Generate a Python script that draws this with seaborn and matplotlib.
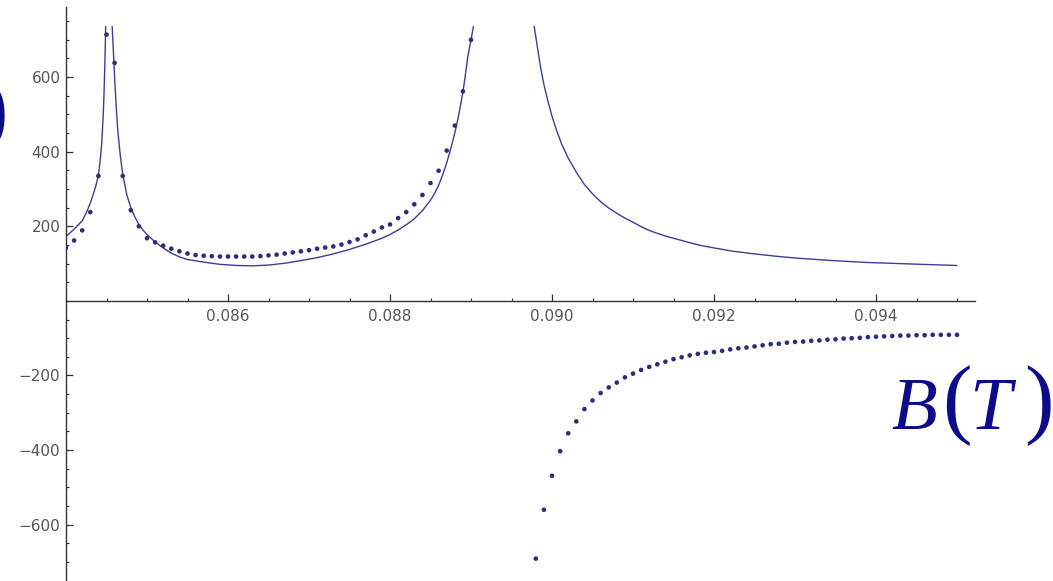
import matplotlib
matplotlib.use("Agg")
import matplotlib.pyplot as plt
from matplotlib.ticker import FixedLocator, MultipleLocator, FuncFormatter
import seaborn as sns
import pandas as pd

# ---------------- data ----------------
# measured points, positive branch
dots_pos_B = [0.0840, 0.0841, 0.0842, 0.0843, 0.0844, 0.0845, 0.0846, 0.0847, 0.0848, 0.0849,
              0.0850, 0.0851, 0.0852, 0.0853, 0.0854, 0.0855, 0.0856, 0.0857, 0.0858, 0.0859,
              0.0860, 0.0861, 0.0862, 0.0863, 0.0864, 0.0865, 0.0866, 0.0867, 0.0868, 0.0869,
              0.0870, 0.0871, 0.0872, 0.0873, 0.0874, 0.0875, 0.0876, 0.0877, 0.0878, 0.0879,
              0.0880, 0.0881, 0.0882, 0.0883, 0.0884, 0.0885, 0.0886, 0.0887, 0.0888, 0.0889,
              0.0890]
dots_pos_v = [143, 162, 189, 238, 335, 714, 638, 335, 243, 200,
              168, 157, 148, 140, 133, 127, 123, 121, 120, 119,
              119, 119, 119, 119, 120, 122, 124, 127, 130, 133,
              136, 140, 143, 146, 151, 158, 165, 176, 186, 197,
              205, 222, 238, 259, 284, 316, 349, 403, 470, 562,
              700]

# measured points, negative branch
dots_neg_B = [0.0898, 0.0899, 0.0900, 0.0901, 0.0902, 0.0903, 0.0904, 0.0905, 0.0906, 0.0907,
              0.0908, 0.0909, 0.0910, 0.0911, 0.0912, 0.0913, 0.0914, 0.0915, 0.0916, 0.0917,
              0.0918, 0.0919, 0.0920, 0.0921, 0.0922, 0.0923, 0.0924, 0.0925, 0.0926, 0.0927,
              0.0928, 0.0929, 0.0930, 0.0931, 0.0932, 0.0933, 0.0934, 0.0935, 0.0936, 0.0937,
              0.0938, 0.0939, 0.0940, 0.0941, 0.0942, 0.0943, 0.0944, 0.0945, 0.0946, 0.0947,
              0.0948, 0.0949, 0.0950]
dots_neg_v = [-691, -560, -469, -403, -355, -323, -290, -267, -247, -232,
              -219, -205, -195, -185, -177, -170, -163, -156, -151, -146,
              -142, -139, -137, -134, -130, -127, -125, -122, -119, -116,
              -115, -112, -110, -109, -107, -106, -104, -103, -101, -100,
              -99, -97, -96, -95, -94, -93, -93, -92, -92, -91,
              -91, -91, -91]

# theoretical curve, three branches
curve1_B = [0.08400, 0.08410, 0.08420, 0.08425, 0.08430, 0.08435, 0.08438, 0.08440, 0.08442,
            0.08444, 0.08446, 0.08447, 0.08448, 0.08449]
curve1_v = [173, 192, 215, 236, 262, 295, 318, 338, 372,
            420, 500, 560, 640, 736]

curve2_B = [0.08457, 0.08458, 0.08460, 0.08462, 0.08464, 0.08467, 0.08470, 0.08475, 0.08480,
            0.08485, 0.08490, 0.08495, 0.08500, 0.08510, 0.08520, 0.08530, 0.08540, 0.08550,
            0.08570, 0.08590, 0.08610, 0.08630, 0.08650, 0.08670, 0.08690, 0.08710, 0.08730,
            0.08750, 0.08770, 0.08790, 0.08800, 0.08810, 0.08820, 0.08830, 0.08840, 0.08850,
            0.08855, 0.08860, 0.08865, 0.08870, 0.08875, 0.08880, 0.08885, 0.08890, 0.08893,
            0.08896, 0.08900, 0.08903]
curve2_v = [736, 690, 600, 520, 455, 390, 340, 285, 250,
            225, 205, 190, 178, 158, 142, 128, 118, 111,
            104, 98, 95, 94, 96, 101, 108, 116, 126,
            138, 152, 168, 178, 190, 204, 220, 242, 270,
            288, 310, 338, 370, 408, 450, 500, 560, 605,
            655, 700, 736]

curve3_B = [0.08978, 0.08982, 0.08986, 0.08990, 0.08995, 0.09000, 0.09006, 0.09012, 0.09020,
            0.09030, 0.09040, 0.09050, 0.09060, 0.09070, 0.09080, 0.09090, 0.09100, 0.09110,
            0.09120, 0.09130, 0.09140, 0.09150, 0.09160, 0.09170, 0.09183, 0.09200, 0.09224,
            0.09250, 0.09280, 0.09306, 0.09347, 0.09389, 0.09430, 0.09470, 0.09500]
curve3_v = [736, 680, 625, 580, 535, 495, 455, 420, 383,
            345, 312, 287, 266, 249, 235, 222, 211, 199,
            189, 181, 174, 168, 162, 156, 149, 142, 133,
            126, 119, 114, 108, 103, 100, 97, 95]

x_major = [0.086, 0.088, 0.090, 0.092, 0.094]
y_major = [-600, -400, -200, 200, 400, 600]

# ---------------- style ----------------
sns.set_theme(style="white")
plt.rcParams['font.family'] = ['DejaVu Sans']

line_color = '#3d3d99'
dot_color = '#2e2e78'
axis_color = '#333333'
label_color = '#555555'
title_color = '#0c0c8a'

fig = plt.figure(figsize=(10.53, 5.81), dpi=100)
fig.patch.set_facecolor('white')
ax = fig.add_axes([66 / 1053, 0.0, (975 - 66) / 1053, 1 - 7 / 581])
ax.set_facecolor('white')

curve_df = pd.concat([
    pd.DataFrame({'B': curve1_B, 'v': curve1_v, 'seg': 1}),
    pd.DataFrame({'B': curve2_B, 'v': curve2_v, 'seg': 2}),
    pd.DataFrame({'B': curve3_B, 'v': curve3_v, 'seg': 3}),
], ignore_index=True)
dots_df = pd.concat([
    pd.DataFrame({'B': dots_pos_B, 'v': dots_pos_v}),
    pd.DataFrame({'B': dots_neg_B, 'v': dots_neg_v}),
], ignore_index=True)

sns.lineplot(data=curve_df, x='B', y='v', units='seg', estimator=None, sort=False,
             color=line_color, linewidth=1.0, ax=ax, legend=False)
sns.scatterplot(data=dots_df, x='B', y='v', color=dot_color, s=11, edgecolor='none',
                linewidth=0, ax=ax, legend=False, zorder=3)

ax.set_xlim(0.0840, 0.095222)
ax.set_ylim(-751, 788)
ax.set_xlabel('')
ax.set_ylabel('')

# axes crossing at (0.084, 0)
ax.spines['top'].set_visible(False)
ax.spines['right'].set_visible(False)
ax.spines['bottom'].set_position(('data', 0))
ax.spines['left'].set_position(('data', 0.0840))
for s in ('bottom', 'left'):
    ax.spines[s].set_color(axis_color)
    ax.spines[s].set_linewidth(1.0)

ax.xaxis.set_major_locator(FixedLocator(x_major))
ax.xaxis.set_minor_locator(MultipleLocator(0.0005))
ax.yaxis.set_major_locator(FixedLocator(y_major))
ax.yaxis.set_minor_locator(MultipleLocator(50))
ax.xaxis.set_major_formatter(FuncFormatter(lambda v, p: f"{v:.3f}"))
ax.yaxis.set_major_formatter(FuncFormatter(lambda v, p: f"{int(round(v))}".replace('-', '\u2212')))

ax.tick_params(axis='both', which='major', direction='in', length=5, width=0.9,
               color=axis_color, labelcolor=label_color, labelsize=11)
ax.tick_params(axis='both', which='minor', direction='in', length=2.5, width=0.8,
               color=axis_color)
ax.tick_params(axis='x', which='major', pad=6)
ax.tick_params(axis='y', which='major', pad=4)
ax.tick_params(bottom=True, left=True, top=False, right=False, which='both')

# axis label "B(T)"
serif = ['Liberation Serif', 'DejaVu Serif']
dx = -6
fig.text((897 + dx) / 1053, 1 - 429 / 581, 'B', fontsize=54, fontstyle='italic', family=serif,
         color=title_color, ha='left', va='baseline')
fig.text((948 + dx) / 1053, 1 - 427 / 581, '(', fontsize=64, family=serif,
         color=title_color, ha='left', va='baseline')
fig.text((975 + dx) / 1053, 1 - 429 / 581, 'T', fontsize=54, fontstyle='italic', family=serif,
         color=title_color, ha='left', va='baseline')
fig.text((1030 + dx) / 1053, 1 - 427 / 581, ')', fontsize=64, family=serif,
         color=title_color, ha='left', va='baseline')
# cut-off end of the vertical axis label at the left edge
fig.text(-22 / 1053, 1 - 137 / 581, ')', fontsize=64, family=serif,
         color=title_color, ha='left', va='baseline')

fig.savefig('out.png', dpi=100, facecolor='white')
